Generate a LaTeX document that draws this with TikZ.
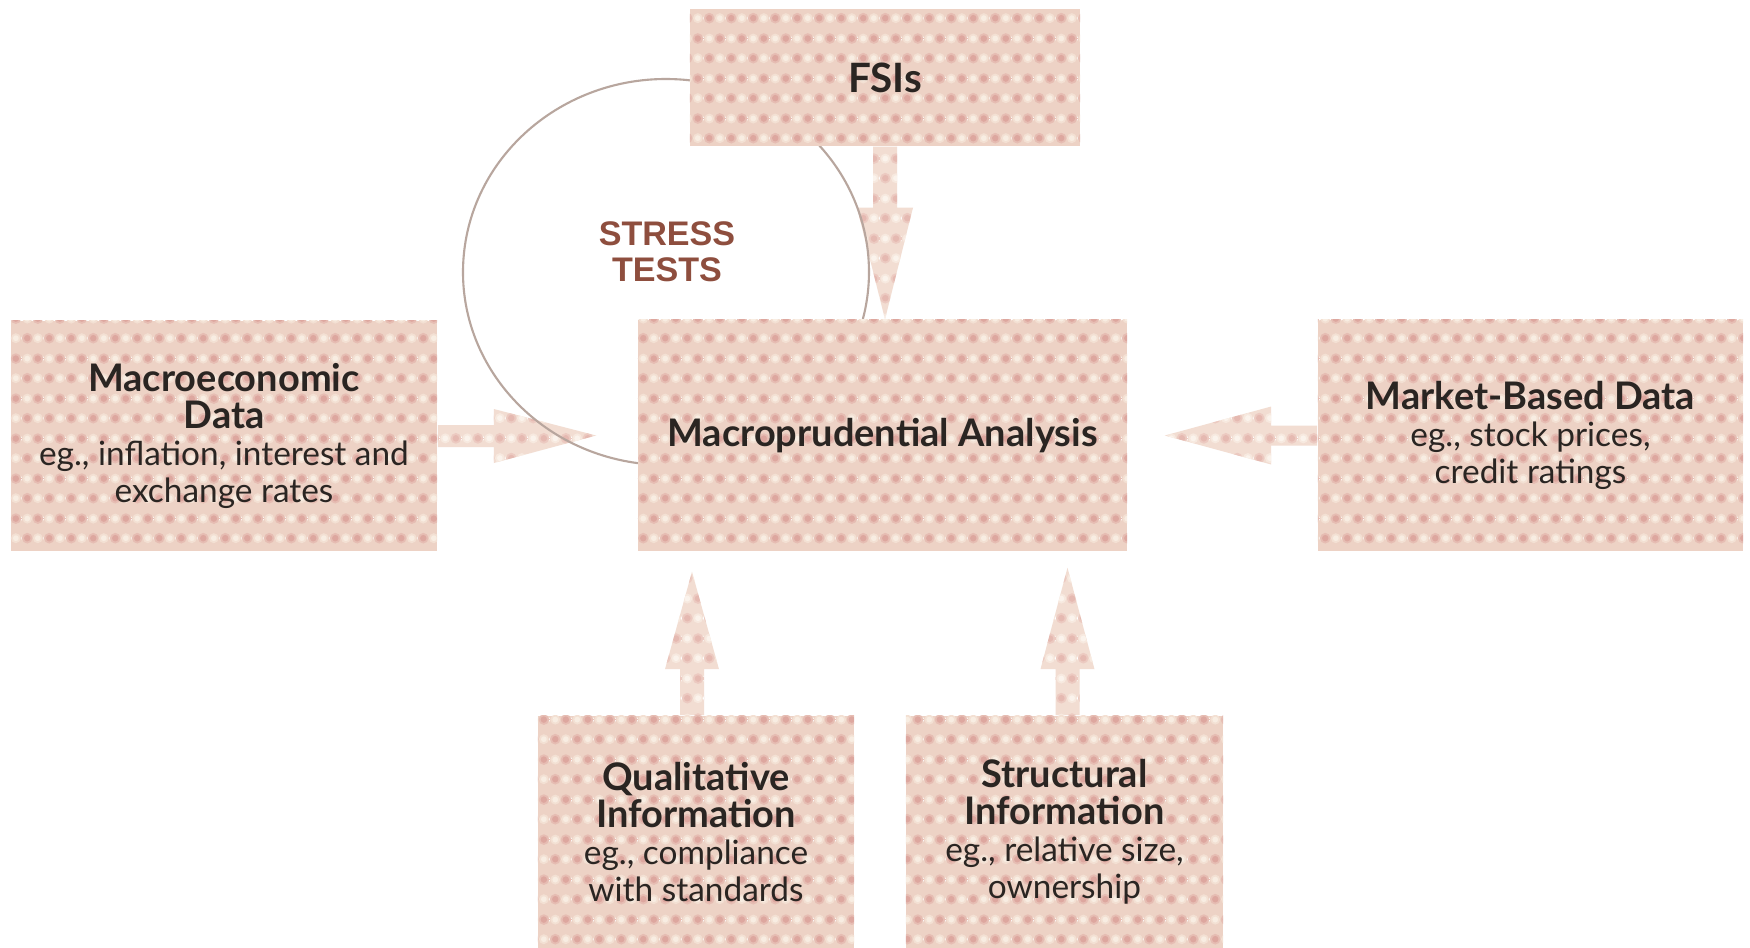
\documentclass[tikz,border=0pt]{standalone}
\usepackage{fontspec}
\setmainfont{Lato}
\newfontfamily\stressfont{Liberation Sans}
\usetikzlibrary{calc,backgrounds,patterns}
\definecolor{base}{HTML}{EDD2C5}
\definecolor{dko}{HTML}{E6BDB3}
\definecolor{dk}{HTML}{DDA79F}
\definecolor{lto}{HTML}{F3E0D3}
\definecolor{lt}{HTML}{F8EDE2}
\definecolor{basel}{HTML}{F2DDD2}
\definecolor{dkol}{HTML}{ECCAC1}
\definecolor{dkl}{HTML}{E5B9B1}
\definecolor{ltol}{HTML}{F7E9DF}
\definecolor{ltl}{HTML}{FBF3EC}
\definecolor{txt}{HTML}{2A2522}
\definecolor{stresscol}{HTML}{8E4E3E}
\definecolor{arccol}{HTML}{B8A69E}
% tile: 22px x 40px, 1px = 0.2845pt
\pgfdeclarepatterninherentlycolored{checker}
  {\pgfpointorigin}{\pgfpoint{6.26pt}{11.38pt}}{\pgfpoint{6.26pt}{11.38pt}}
  {\pgfsetfillcolor{dko}
   \pgfpathcircle{\pgfpoint{1.565pt}{2.845pt}}{1.55pt}
   \pgfpathcircle{\pgfpoint{4.695pt}{8.535pt}}{1.55pt}\pgfusepath{fill}
   \pgfsetfillcolor{dk}
   \pgfpathcircle{\pgfpoint{1.565pt}{2.845pt}}{0.95pt}
   \pgfpathcircle{\pgfpoint{4.695pt}{8.535pt}}{0.95pt}\pgfusepath{fill}
   \pgfsetfillcolor{lto}
   \pgfpathcircle{\pgfpoint{4.695pt}{2.845pt}}{1.45pt}
   \pgfpathcircle{\pgfpoint{1.565pt}{8.535pt}}{1.45pt}\pgfusepath{fill}
   \pgfsetfillcolor{lt}
   \pgfpathcircle{\pgfpoint{4.695pt}{2.845pt}}{0.85pt}
   \pgfpathcircle{\pgfpoint{1.565pt}{8.535pt}}{0.85pt}\pgfusepath{fill}}
\pgfdeclarepatterninherentlycolored{checkerlight}
  {\pgfpointorigin}{\pgfpoint{6.26pt}{11.38pt}}{\pgfpoint{6.26pt}{11.38pt}}
  {\pgfsetfillcolor{dkol}
   \pgfpathcircle{\pgfpoint{1.565pt}{2.845pt}}{1.55pt}
   \pgfpathcircle{\pgfpoint{4.695pt}{8.535pt}}{1.55pt}\pgfusepath{fill}
   \pgfsetfillcolor{dkl}
   \pgfpathcircle{\pgfpoint{1.565pt}{2.845pt}}{0.95pt}
   \pgfpathcircle{\pgfpoint{4.695pt}{8.535pt}}{0.95pt}\pgfusepath{fill}
   \pgfsetfillcolor{ltol}
   \pgfpathcircle{\pgfpoint{4.695pt}{2.845pt}}{1.45pt}
   \pgfpathcircle{\pgfpoint{1.565pt}{8.535pt}}{1.45pt}\pgfusepath{fill}
   \pgfsetfillcolor{ltl}
   \pgfpathcircle{\pgfpoint{4.695pt}{2.845pt}}{0.85pt}
   \pgfpathcircle{\pgfpoint{1.565pt}{8.535pt}}{0.85pt}\pgfusepath{fill}}
\newcommand{\boxtitle}[1]{{\fontsize{10.8}{10.5}\selectfont\bfseries #1}}
\tikzset{
  tex/.style={fill=base, draw=none, postaction={pattern=checker}},
  arrowtex/.style={fill=basel, draw=none, postaction={pattern=checkerlight}},
  box/.style={tex, inner sep=0pt, align=center, text=txt,
    font={\fontsize{9.5}{10.5}\selectfont}},
  arcline/.style={draw=arccol, line width=0.6pt},
}
\begin{document}
\begin{tikzpicture}[x=0.01cm,y=-0.01cm]
\useasboundingbox (0,0) rectangle (1750,948);

\node[box, minimum width=4.26cm, minimum height=2.30cm] (macro) at (224,436)
  {\boxtitle{Macroeconomic}\\\boxtitle{Data}\\eg., inflation, interest and\\exchange rates};
\node[box, minimum width=4.89cm, minimum height=2.31cm] (mid) at (882.5,435.5)
  {\boxtitle{Macroprudential Analysis}};
\node[box, minimum width=4.25cm, minimum height=2.31cm] (market) at (1530.5,435.5)
  {\boxtitle{Market-Based Data}\\eg., stock prices,\\credit ratings};
\node[box, minimum width=3.90cm, minimum height=1.37cm] (fsi) at (885,77.5)
  {{\fontsize{11.5}{12}\selectfont\bfseries FSIs}};
\node[box, minimum width=3.16cm, minimum height=2.32cm] (qual) at (696,832)
  {\boxtitle{Qualitative}\\\boxtitle{Information}\\eg., compliance\\with standards};
\node[box, minimum width=3.17cm, minimum height=2.32cm] (struct) at (1064.5,832)
  {\boxtitle{Structural}\\\boxtitle{Information}\\eg., relative size,\\ownership};
\node[align=center, text=stresscol, font={\stressfont\bfseries\fontsize{9.7}{10.3}\selectfont}] (stress) at (667,252) {STRESS\\TESTS};

\coordinate (ctr) at (666,272);

\begin{scope}[on background layer]
  \fill[white] (0,0) rectangle (1750,948);
  % FSIs -> analysis
  \path[arrowtex] ($(fsi.south)+(-12,0)$) -- ($(fsi.south)+(12,0)$) -- ($(fsi.south)+(12,61)$) -- ($(fsi.south)+(28,61)$)
     -- (fsi.south |- mid.north) -- ($(fsi.south)+(-28,61)$) -- ($(fsi.south)+(-12,61)$) -- cycle;
  % macro -> analysis
  \path[arrowtex] ($(macro.east)+(0,-11)$) -- ($(macro.east)+(56,-11)$) -- ($(macro.east)+(56,-27)$)
     -- ($(mid.west)+(-41,0)$) -- ($(macro.east)+(56,27)$) -- ($(macro.east)+(56,11)$) -- ($(macro.east)+(0,11)$) -- cycle;
  % market -> analysis
  \path[arrowtex] ($(market.west)+(0,-10)$) -- ($(market.west)+(-46,-10)$) -- ($(market.west)+(-46,-29)$)
     -- ($(mid.east)+(37,0)$) -- ($(market.west)+(-46,29)$) -- ($(market.west)+(-46,10)$) -- ($(market.west)+(0,10)$) -- cycle;
  % qualitative -> analysis
  \path[arrowtex] ($(qual.north)+(-16,0)$) -- ($(qual.north)+(-16,-46)$) -- ($(qual.north)+(-31,-46)$)
     -- ($(qual.north |- mid.south)+(-4,20)$) -- ($(qual.north)+(23,-46)$) -- ($(qual.north)+(8,-46)$) -- ($(qual.north)+(8,0)$) -- cycle;
  % structural -> analysis
  \path[arrowtex] ($(struct.north)+(-9,0)$) -- ($(struct.north)+(-9,-46)$) -- ($(struct.north)+(-24,-46)$)
     -- ($(struct.north |- mid.south)+(3,16)$) -- ($(struct.north)+(30,-46)$) -- ($(struct.north)+(15,-46)$) -- ($(struct.north)+(15,0)$) -- cycle;
  % stress-test loop
  \draw[arcline] (ctr) ++(95:203 and 193) arc[start angle=95, end angle=378, x radius=203, y radius=193];
\end{scope}
\end{tikzpicture}
\end{document}
